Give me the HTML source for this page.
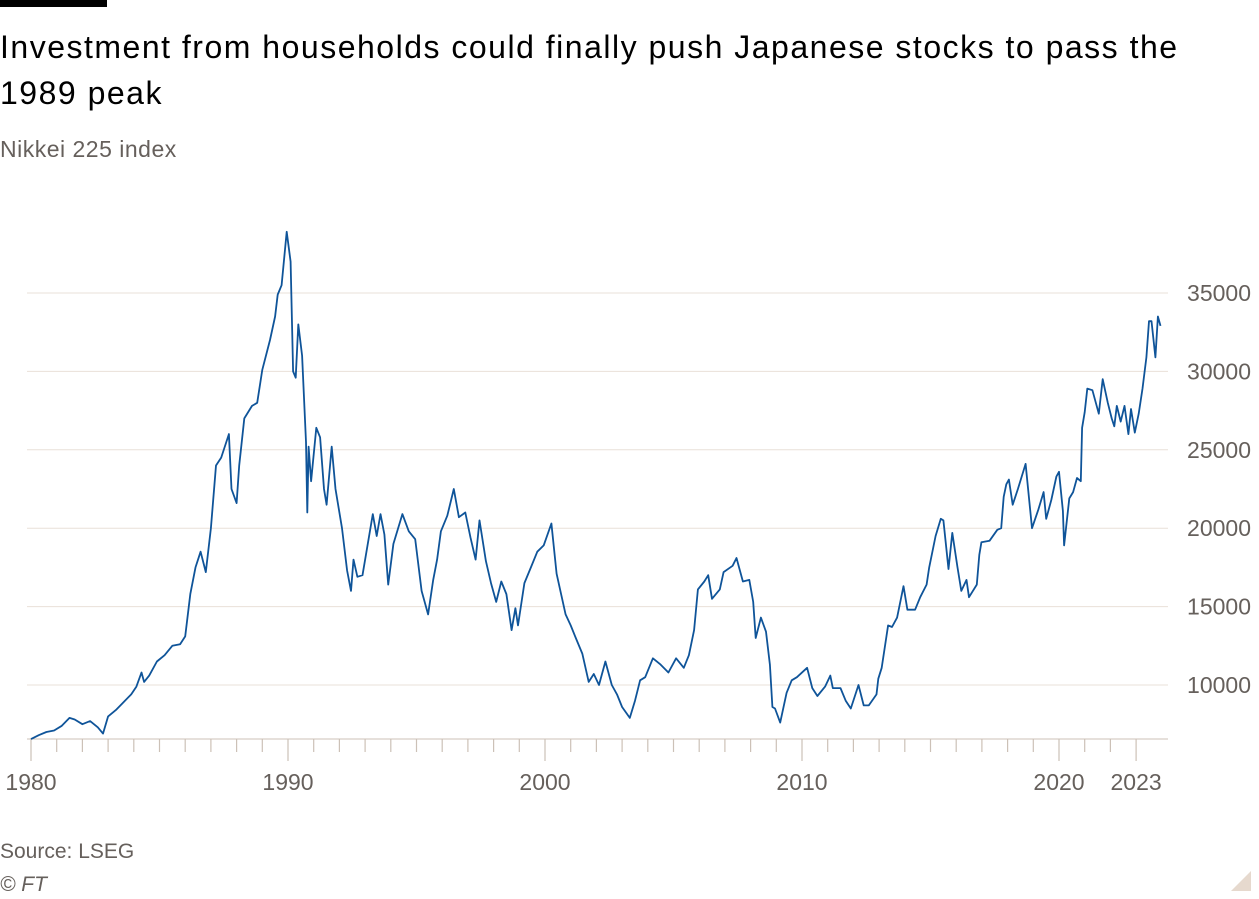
<!DOCTYPE html>
<html><head><meta charset="utf-8">
<style>
body{margin:0;width:1259px;height:899px;background:#fff;font-family:"Liberation Sans",sans-serif;overflow:hidden;position:relative}
.t{position:absolute;left:0;margin:0}
</style></head><body>
<div style="position:absolute;left:0;top:0;width:107px;height:7px;background:#000"></div>
<h1 class="t" style="top:24px;font-size:32px;letter-spacing:1.5px;font-weight:normal;line-height:46px;color:#000;width:1200px">Investment from households could finally push Japanese stocks to pass the 1989 peak</h1>
<div class="t" style="top:136px;font-size:23px;letter-spacing:0.5px;color:#66605c">Nikkei 225 index</div>
<svg id="chart" style="position:absolute;left:0;top:0" width="1259" height="830"></svg>
<div class="t" style="top:840px;font-size:21px;color:#66605c">Source: LSEG</div>
<div class="t" style="top:873px;font-size:21px;color:#66605c;font-style:italic">© FT</div>
<svg style="position:absolute;right:8px;bottom:8px" width="20" height="20"><polygon points="20,0 20,20 0,20" fill="#e6d9ce"/></svg>
<script>
const yTicks=[10000,15000,20000,25000,30000,35000];
const xLabels=[1980,1990,2000,2010,2020,2023];
const dates=[
1980,1980.3,1980.6,1980.9,
1981.2,1981.5,1981.7,
1982,1982.3,1982.6,1982.8,
1983,1983.3,1983.6,1983.9,
1984.1,1984.3,1984.4,1984.6,1984.9,
1985.2,1985.5,1985.8,
1986,1986.2,1986.4,1986.6,1986.8,
1987,1987.2,1987.4,1987.7,1987.8,
1988,1988.1,1988.3,1988.6,1988.8,
1989,1989.3,1989.5,1989.6,1989.75,1989.95,
1990.1,1990.2,1990.3,1990.4,1990.55,1990.7,1990.75,1990.8,1990.9,
1991.1,1991.25,1991.4,1991.5,1991.7,1991.85,
1992.1,1992.3,1992.45,1992.55,1992.7,1992.9,
1993.3,1993.45,1993.6,1993.75,1993.9,
1994.1,1994.45,1994.7,1994.95,
1995.2,1995.45,1995.65,1995.8,1995.95,
1996.2,1996.45,1996.65,1996.9,
1997.1,1997.3,1997.45,1997.7,1997.9,
1998.1,1998.3,1998.5,1998.7,1998.85,1998.95,
1999.2,1999.45,1999.7,1999.95,
2000.25,2000.45,2000.6,2000.8,
2001,2001.2,2001.45,2001.7,2001.9,
2002.1,2002.35,2002.6,2002.8,
2003,2003.3,2003.5,2003.7,2003.9,
2004.2,2004.5,2004.8,
2005.1,2005.4,2005.6,2005.8,2005.95,
2006.2,2006.35,2006.5,2006.8,2006.95,
2007.3,2007.45,2007.7,2007.95,
2008.1,2008.2,2008.4,2008.6,2008.75,2008.85,2008.95,
2009.15,2009.4,2009.6,2009.8,
2010.2,2010.4,2010.6,2010.9,
2011.1,2011.2,2011.5,2011.7,2011.9,
2012.2,2012.4,2012.6,2012.9,2012.97,
2013.1,2013.35,2013.5,2013.7,2013.95,
2014.1,2014.4,2014.6,2014.85,2014.95,
2015.2,2015.4,2015.5,2015.7,2015.85,
2016.05,2016.2,2016.4,2016.5,2016.8,2016.9,2016.98,
2017.3,2017.6,2017.75,2017.85,2017.95,
2018.05,2018.2,2018.4,2018.7,2018.95,
2019.2,2019.4,2019.5,2019.7,2019.9,2020,
2020.15,2020.2,2020.4,2020.55,2020.7,2020.85,2020.9,2021,
2021.1,2021.3,2021.55,2021.7,2021.9,
2022.05,2022.15,2022.25,2022.4,2022.55,2022.7,2022.8,2022.95,
2023.1,2023.25,2023.4,2023.5,2023.6,2023.75,2023.85,2023.95];
const values=[
6550,6800,7000,7100,
7400,7900,7800,
7500,7700,7300,6900,
8000,8400,8900,9400,
9900,10800,10200,10600,11500,
11900,12500,12600,
13100,15800,17500,18500,17200,
20000,24000,24500,26000,22500,
21600,24000,27000,27800,28000,
30100,32000,33500,34900,35500,38900,
37000,30000,29600,33000,31000,25500,21000,25200,23000,
26400,25800,22500,21500,25200,22500,
20000,17300,16000,18000,16900,17000,
20900,19500,20900,19600,16400,
19000,20900,19800,19300,
16000,14500,16700,18000,19800,
20800,22500,20700,21000,
19400,18000,20500,17900,16500,
15300,16600,15800,13500,14900,13800,
16500,17500,18500,18900,
20300,17100,16000,14500,
13800,13000,12000,10200,10700,
10000,11500,10000,9400,
8600,7900,9000,10300,10500,
11700,11300,10800,
11700,11100,11900,13500,16100,
16600,17000,15500,16100,17200,
17600,18100,16600,16700,
15300,13000,14300,13400,11300,8600,8500,
7600,9500,10300,10500,
11100,9800,9300,9900,
10600,9800,9800,9000,8500,
10000,8700,8700,9400,10400,
11100,13800,13700,14300,16300,
14800,14800,15600,16400,17500,
19500,20600,20500,17400,19700,
17500,16000,16700,15600,16400,18300,19100,
19200,19900,20000,22000,22800,
23100,21500,22500,24100,20000,
21200,22300,20600,21800,23300,23600,
21100,18900,21900,22300,23200,23000,26400,27400,
28900,28800,27300,29500,28000,
27000,26500,27800,26800,27800,26000,27600,26100,
27300,28900,30900,33200,33200,30900,33500,32900];
const X0=31,X1=288,Y10=685,PX=0.015680;
const x=d=>X0+(d-1980)*(X1-X0)/10;
const y=v=>Y10-(v-10000)*PX;
const ns="http://www.w3.org/2000/svg",svg=document.getElementById('chart');
function mk(t,a){const e=document.createElementNS(ns,t);for(const k in a)e.setAttribute(k,a[k]);svg.appendChild(e);return e;}
yTicks.forEach(v=>{
 const g=mk('line',{x1:27,x2:1168,y1:y(v),y2:y(v),stroke:'#e9e0d8','stroke-width':1});
 
 
 const t=mk('text',{x:1251,y:y(v)+8,'text-anchor':'end','font-size':23,fill:'#66605c','font-family':'Liberation Sans, sans-serif'});
 t.textContent=v;
 
 
});
const base=mk('line',{x1:27,x2:1168,y1:739,y2:739,stroke:'#ccc1b7','stroke-width':1});


for(let yr=1980;yr<=2023;yr++){
 const major=yr%10==0||yr==2023;
 const tk=mk('line',{x1:x(yr),x2:x(yr),y1:739,y2:major?761:752,stroke:'#ccc1b7','stroke-width':1.2});
 
 
}
xLabels.forEach(yr=>{
 const t=mk('text',{x:x(yr),y:790,'text-anchor':'middle','font-size':23,fill:'#66605c','font-family':'Liberation Sans, sans-serif'});
 t.textContent=yr;
 
 
});
const n=Math.min(dates.length,values.length);
let d='';
for(let i=0;i<n;i++){d+=(i?'L':'M')+x(dates[i]).toFixed(1)+','+y(values[i]).toFixed(1);}
const p=mk('path',{d:d,fill:'none',stroke:'#0f5499','stroke-width':1.8,'stroke-linejoin':'round'});


</script>
</body></html>
